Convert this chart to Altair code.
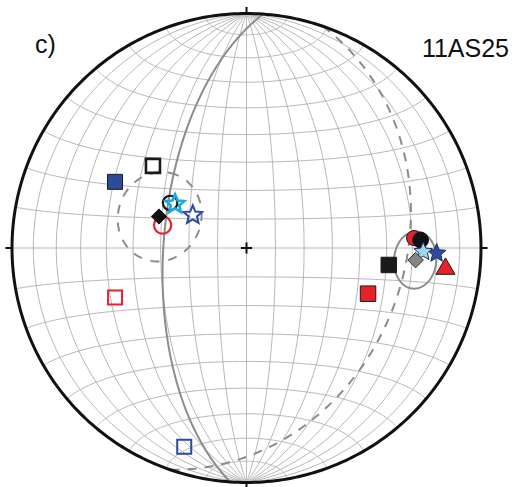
import numpy as np
import pandas as pd
import altair as alt

# ---- labels -------------------------------------------------------------
panel_tag = "c)"
site_name = "11AS25"

# ---- directions (declination, inclination in degrees) ---------------------
# negative inclination = upper hemisphere (drawn open)
point_key = [
    "sq_blue_fill", "sq_black_open", "sq_red_open", "sq_blue_open",
    "ci_red_open", "ci_black_open", "st_blue_open", "st_cyan_open", "di_black",
    "sq_black_fill", "sq_red_fill", "ci_red_fill", "ci_black_fill",
    "st_blue_fill", "st_light_fill", "tr_red_fill", "di_grey",
]
point_dec = [296.7, 311.3, 249.4, 197.4,
             285.3, 300.5, 301.5, 301.6, 289.8,
             96.8, 110.6, 86.6, 87.4,
             91.6, 91.2, 95.2, 94.1]
point_inc = [37.3, -45.9, -39.9, -12.2,
             -59.6, -59.0, -68.1, -60.7, 57.4,
             38.8, 43.9, 29.2, 26.6,
             20.0, 25.6, 15.9, 28.5]

# mean directions with their alpha95 cones
mean_dec = [289.8, 94.1]
mean_inc = [57.4, 28.5]
mean_a95 = [15.0, 8.5]
mean_dash = [True, False]

# planes (dip direction, dip)
plane_dd = [274.0, 109.0]
plane_dip = [61.0, 33.0]
plane_dash = [False, True]

# ---- marker styles ------------------------------------------------------
def star_path(inner=0.45):
    ang = np.radians(np.arange(10) * 36.0)
    rad = np.where(np.arange(10) % 2 == 0, 1.0, inner)
    pts = [f"{r*np.sin(a):.4f},{-r*np.cos(a):.4f}" for a, r in zip(ang, rad)]
    return "M" + " L".join(pts) + " Z"

STAR = star_path()
RED, BLUE, CYAN, LIGHT = "#e8202a", "#2d4b9d", "#19a9e1", "#9fd6ea"
style = {
    # shape, fill, edge, size, edge width, fill opacity
    "sq_blue_fill": ("square", BLUE, "#1a1a1a", 225, 1.0, 1),
    "sq_black_open": ("square", "#ffffff", "#1a1a1a", 196, 2.6, 0),
    "sq_red_open": ("square", "#ffffff", RED, 196, 2.0, 0),
    "sq_blue_open": ("square", "#ffffff", BLUE, 196, 2.0, 0),
    "ci_red_open": ("circle", "#ffffff", RED, 300, 2.2, 0),
    "ci_black_open": ("circle", "#ffffff", "#1a1a1a", 210, 2.2, 0),
    "st_blue_open": ("star", "#ffffff", BLUE, 380, 2.0, 0),
    "st_cyan_open": ("star", "#ffffff", CYAN, 380, 2.6, 0),
    "di_black": ("diamond", "#111111", "#111111", 230, 1.0, 1),
    "sq_black_fill": ("square", "#1a1a1a", "#1a1a1a", 240, 1.0, 1),
    "sq_red_fill": ("square", RED, "#1a1a1a", 240, 1.0, 1),
    "ci_red_fill": ("circle", RED, "#1a1a1a", 225, 1.0, 1),
    "ci_black_fill": ("circle", "#111111", "#111111", 250, 1.0, 1),
    "st_blue_fill": ("star", BLUE, "#1a2a5c", 380, 1.0, 1),
    "st_light_fill": ("star", LIGHT, "#1a2a5c", 380, 1.0, 1),
    "tr_red_fill": ("triangle-up", RED, "#1a1a1a", 360, 1.0, 1),
    "di_grey": ("diamond", "#858585", "#2a2a2a", 240, 1.0, 1),
}

# ---- equal-area (Schmidt) lower-hemisphere projection ---------------------
def to_xyz(dec, inc):
    d, i = np.radians(dec), np.radians(inc)
    return np.stack([np.sin(d) * np.cos(i), np.cos(d) * np.cos(i), np.sin(i)], -1)


def project(v):
    v = np.atleast_2d(v)
    k = 1.0 / np.sqrt(1.0 + np.abs(v[:, 2]))
    return v[:, 0] * k, v[:, 1] * k


def great_circle(dd, dip, n=181):
    s = to_xyz(dd - 90.0, 0.0)
    d = to_xyz(dd, dip)
    t = np.linspace(0, np.pi, n)[:, None]
    return np.cos(t) * s + np.sin(t) * d


def small_circle(dec, inc, alpha, n=241):
    m = to_xyz(dec, inc)
    u = np.cross(m, [0.0, 0.0, 1.0])
    u /= np.linalg.norm(u)
    w = np.cross(m, u)
    p = np.linspace(0, 2 * np.pi, n)[:, None]
    a = np.radians(alpha)
    return np.cos(a) * m + np.sin(a) * (np.cos(p) * u + np.sin(p) * w)


def curves_frame(curves):
    rows = []
    for cid, v in enumerate(curves):
        x, y = project(v)
        rows.append(pd.DataFrame({"id": cid, "k": np.arange(len(x)), "x": x, "y": y}))
    return pd.concat(rows, ignore_index=True)


# net: meridians through N and S, parallels about the N-S axis, 10 degree spacing
net = []
for dip in range(10, 90, 10):
    net.append(great_circle(90.0, dip))
    net.append(great_circle(270.0, dip))
net.append(great_circle(90.0, 90.0))
psi = np.linspace(0, np.pi, 181)
for a in range(10, 180, 10):
    ar = np.radians(a)
    net.append(np.stack([np.sin(ar) * np.cos(psi), np.full_like(psi, np.cos(ar)),
                         np.sin(ar) * np.sin(psi)], -1))
net_df = curves_frame(net)

t = np.linspace(0, 2 * np.pi, 361)
prim_df = pd.DataFrame({"id": 0, "k": np.arange(361), "x": np.sin(t), "y": np.cos(t)})

plane_solid = curves_frame([great_circle(a, b) for a, b, s in zip(plane_dd, plane_dip, plane_dash) if not s])
plane_dashed = curves_frame([great_circle(a, b) for a, b, s in zip(plane_dd, plane_dip, plane_dash) if s])
cone_solid = curves_frame([small_circle(a, b, c) for a, b, c, s in zip(mean_dec, mean_inc, mean_a95, mean_dash) if not s])
cone_dashed = curves_frame([small_circle(a, b, c) for a, b, c, s in zip(mean_dec, mean_inc, mean_a95, mean_dash) if s])

px, py = project(to_xyz(np.array(point_dec), np.array(point_inc)))
pts = pd.DataFrame({"x": px, "y": py, "key": point_key})
pts["k"] = np.arange(len(pts))
pts["shape"] = [STAR if style[k][0] == "star" else style[k][0] for k in point_key]
pts["fill"] = [style[k][1] for k in point_key]
pts["edge"] = [style[k][2] for k in point_key]
pts["size"] = [style[k][3] for k in point_key]
pts["sw"] = [style[k][4] for k in point_key]
pts["fo"] = [style[k][5] for k in point_key]

# compass ticks outside the primitive and the centre cross
tick = 0.028
arm = 0.024
rules = pd.DataFrame({
    "x": [0, 0, 1, -1, -arm, 0],
    "y": [1, -1, 0, 0, 0, -arm],
    "x2": [0, 0, 1 + tick, -1 - tick, arm, 0],
    "y2": [1 + tick, -1 - tick, 0, 0, 0, arm],
})

# ---- scales: unit primitive circle, radius 234.5 px -------------------------
W, H = 514, 487
R, CX, CY = 234.5, 246.5, 248.0
xs = alt.Scale(domain=[-CX / R, (W - CX) / R], nice=False, zero=False)
ys = alt.Scale(domain=[-(H - CY) / R, CY / R], nice=False, zero=False)
X = alt.X("x:Q", scale=xs, axis=None)
Y = alt.Y("y:Q", scale=ys, axis=None)


def lines(df, **kw):
    return alt.Chart(df).mark_line(**kw).encode(x=X, y=Y, detail="id:N", order="k:Q")


grid = lines(net_df, color="#b6b6b6", strokeWidth=1)
gc_solid = lines(plane_solid, color="#8c8c8c", strokeWidth=2)
gc_dashed = lines(plane_dashed, color="#8c8c8c", strokeWidth=2, strokeDash=[9, 8])
a95_solid = lines(cone_solid, color="#8c8c8c", strokeWidth=2)
a95_dashed = lines(cone_dashed, color="#8c8c8c", strokeWidth=2, strokeDash=[9, 9])
primitive = lines(prim_df, color="#111111", strokeWidth=3)

marks = alt.Chart(rules).mark_rule(color="#111111", strokeWidth=2).encode(
    x=X, y=Y, x2="x2:Q", y2="y2:Q")

symbols = alt.Chart(pts).mark_point(filled=True, opacity=1).encode(
    x=X, y=Y,
    shape=alt.Shape("shape:N", scale=None),
    fill=alt.Fill("fill:N", scale=None),
    stroke=alt.Stroke("edge:N", scale=None),
    size=alt.Size("size:Q", scale=None),
    strokeWidth=alt.StrokeWidth("sw:Q", scale=None),
    fillOpacity=alt.FillOpacity("fo:Q", scale=None),
    order=alt.Order("k:Q"),
)

tag = alt.Chart(pd.DataFrame({"t": [panel_tag]})).mark_text(
    align="left", baseline="alphabetic", fontSize=25, font="Liberation Sans", color="#111111"
).encode(x=alt.value(35), y=alt.value(53), text="t:N")
name = alt.Chart(pd.DataFrame({"t": [site_name]})).mark_text(
    align="right", baseline="alphabetic", fontSize=25, font="Liberation Sans", color="#111111"
).encode(x=alt.value(509), y=alt.value(57), text="t:N")

chart = alt.layer(
    grid, gc_solid, gc_dashed, a95_dashed, a95_solid, primitive, marks, symbols, tag, name
).properties(width=W, height=H, autosize="none", padding=0).configure_view(stroke=None)

chart.save("out.html", embed_options={"renderer": "svg", "actions": False})
